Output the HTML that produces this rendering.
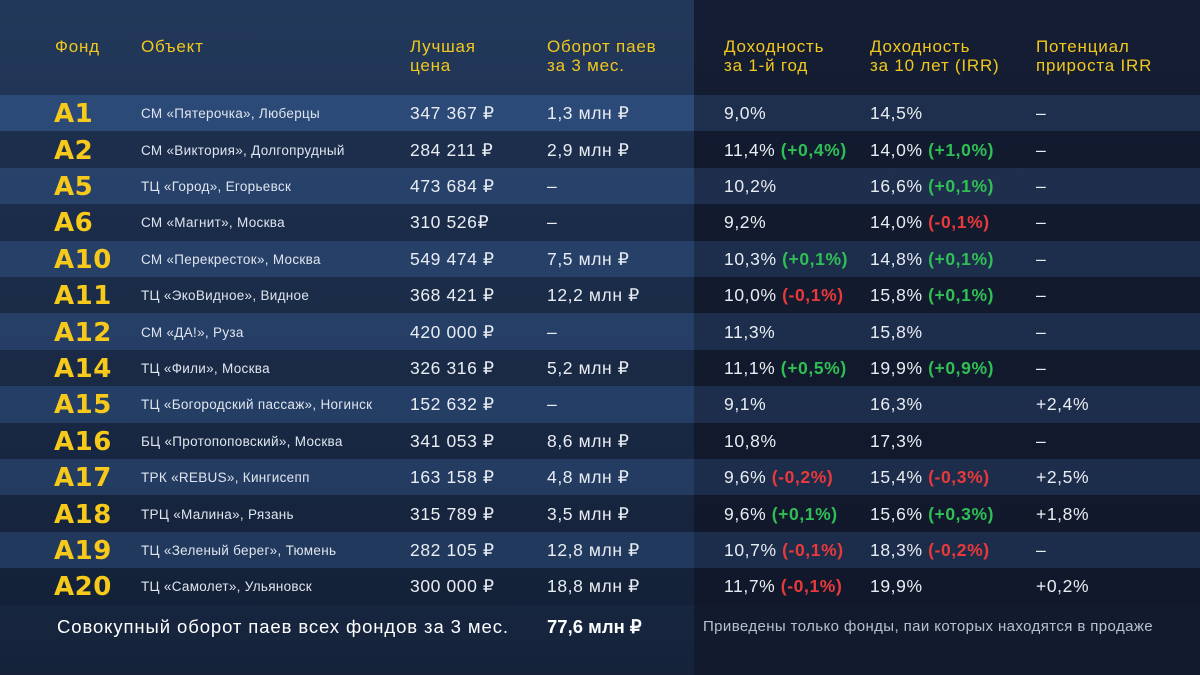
<!DOCTYPE html>
<html><head><meta charset="utf-8"><style>
body{margin:0;width:1200px;height:675px;overflow:hidden;font-family:"Liberation Sans","Noto Sans CJK SC",sans-serif;background:#131c30;}
#root{position:relative;width:1200px;height:675px;}
.abs{position:absolute;white-space:nowrap;}
.hdr{color:#f2c81c;font-size:17px;line-height:19px;letter-spacing:0.8px;}
.code{color:#f7c91a;font-weight:bold;font-size:26px;font-family:"DejaVu Sans","Liberation Sans",sans-serif;letter-spacing:0.5px;}
.obj{color:#dfe5ee;font-size:13.5px;letter-spacing:0.3px;}
.val{color:#e9edf3;font-size:17.5px;letter-spacing:0.6px;}
.g{color:#2fbf55;font-weight:bold;}
.r{color:#e8393b;font-weight:bold;}
</style></head><body>
<div id="root">
<div class="abs" style="left:0;top:0;width:694px;height:675px;background:linear-gradient(#22385a,#1c2e4c 60%,#15223a)"></div>
<div class="abs" style="left:694px;top:0;width:506px;height:675px;background:linear-gradient(#141d33,#121a2d)"></div>
<div id="rows"></div>
<div class="abs hdr" style="left:55px;top:37px">Фонд</div>
<div class="abs hdr" style="left:141px;top:37px">Объект</div>
<div class="abs hdr" style="left:410px;top:37px">Лучшая<br>цена</div>
<div class="abs hdr" style="left:547px;top:37px">Оборот паев<br>за 3 мес.</div>
<div class="abs hdr" style="left:724px;top:37px">Доходность<br>за 1-й год</div>
<div class="abs hdr" style="left:870px;top:37px">Доходность<br>за 10 лет (IRR)</div>
<div class="abs hdr" style="left:1036px;top:37px">Потенциал<br>прироста IRR</div>
<div class="abs" style="left:57px;top:616px;color:#fff;font-size:18.5px;letter-spacing:0.9px">Совокупный оборот паев всех фондов за 3 мес.</div>
<div class="abs" style="left:547px;top:616px;color:#fff;font-size:18.5px;font-weight:bold">77,6 млн ₽</div>
<div class="abs" style="left:703px;top:618px;color:#b7c0cf;font-size:15px;letter-spacing:0.4px">Приведены только фонды, паи которых находятся в продаже</div>
</div>
<script>
const codes=["A1","A2","A5","A6","A10","A11","A12","A14","A15","A16","A17","A18","A19","A20"];
const objects=["СМ «Пятерочка», Люберцы","СМ «Виктория», Долгопрудный","ТЦ «Город», Егорьевск","СМ «Магнит», Москва","СМ «Перекресток», Москва","ТЦ «ЭкоВидное», Видное","СМ «ДА!», Руза","ТЦ «Фили», Москва","ТЦ «Богородский пассаж», Ногинск","БЦ «Протопоповский», Москва","ТРК «REBUS», Кингисепп","ТРЦ «Малина», Рязань","ТЦ «Зеленый берег», Тюмень","ТЦ «Самолет», Ульяновск"];
const prices=["347 367 ₽","284 211 ₽","473 684 ₽","310 526₽","549 474 ₽","368 421 ₽","420 000 ₽","326 316 ₽","152 632 ₽","341 053 ₽","163 158 ₽","315 789 ₽","282 105 ₽","300 000 ₽"];
const turnover=["1,3 млн ₽","2,9 млн ₽","–","–","7,5 млн ₽","12,2 млн ₽","–","5,2 млн ₽","–","8,6 млн ₽","4,8 млн ₽","3,5 млн ₽","12,8 млн ₽","18,8 млн ₽"];
const yield1=["9,0%","11,4%","10,2%","9,2%","10,3%","10,0%","11,3%","11,1%","9,1%","10,8%","9,6%","9,6%","10,7%","11,7%"];
const yield1Chg=["","+0,4%","","","+0,1%","-0,1%","","+0,5%","","","-0,2%","+0,1%","-0,1%","-0,1%"];
const irr=["14,5%","14,0%","16,6%","14,0%","14,8%","15,8%","15,8%","19,9%","16,3%","17,3%","15,4%","15,6%","18,3%","19,9%"];
const irrChg=["","+1,0%","+0,1%","-0,1%","+0,1%","+0,1%","","+0,9%","","","-0,3%","+0,3%","-0,2%",""];
const potential=["–","–","–","–","–","–","–","–","+2,4%","–","+2,5%","+1,8%","–","+0,2%"];
const rows=document.getElementById('rows');
function cell(cls,x,y,html,name){const d=document.createElement('div');d.className='abs '+cls;d.style.left=x+'px';d.style.top=y+'px';d.innerHTML=html;


rows.appendChild(d);return d;}
function chg(v){if(!v)return '';return ' <span class="'+(v[0]=='+'?'g':'r')+'">('+v+')</span>';}
const top0=95,h=36.4;
codes.forEach((c,i)=>{
 const y=top0+i*h;
 const light=i%2==0;
 const bl=document.createElement('div');bl.className='abs';bl.style.cssText=`left:0;top:${y}px;width:694px;height:${h}px;background:${i==0?'rgba(60,100,160,0.45)':light?'rgba(60,100,160,0.30)':'rgba(0,0,0,0.10)'}`;
 
 
 rows.appendChild(bl);
 const br=document.createElement('div');br.className='abs';br.style.cssText=`left:694px;top:${y}px;width:506px;height:${h}px;background:${light?'rgba(50,80,130,0.35)':'rgba(0,0,0,0.05)'}`;
 
 
 rows.appendChild(br);
 const cy=y+h/2+2;
 cell('code',54,cy-16,c,'fund-code');
 cell('obj',141,cy-9,objects[i],'object-name');
 cell('val',410,cy-12,prices[i],'best-price');
 cell('val',547,cy-12,turnover[i],'turnover');
 cell('val',724,cy-12,yield1[i]+chg(yield1Chg[i]),'yield-1y');
 cell('val',870,cy-12,irr[i]+chg(irrChg[i]),'irr-10y');
 cell('val',1036,cy-12,potential[i],'irr-potential');
});
</script>
</body></html>
